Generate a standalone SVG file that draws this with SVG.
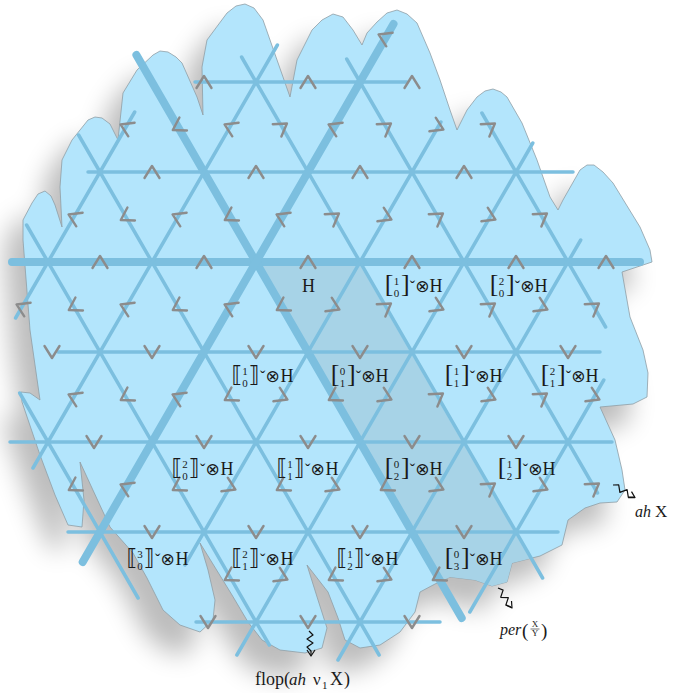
<svg xmlns="http://www.w3.org/2000/svg" width="679" height="693" viewBox="0 0 679 693">
<style>
.ln{stroke:#7cbfdf;stroke-width:3.5;stroke-linecap:round;fill:none}
.tk{stroke-width:8}
.ch{fill:none;stroke:#8c8c8c;stroke-width:2.4;stroke-linecap:round;stroke-linejoin:round}
.t{font-family:"Liberation Serif",serif;fill:#1a1a1a}
.s{font-size:11px;text-anchor:middle}
.s2{font-size:11px;text-anchor:middle}
.br{font-size:26px}
.db{font-family:"DejaVu Sans",sans-serif;font-size:22px;fill:#1a1a1a}
.ot{font-family:"DejaVu Sans",sans-serif;font-size:17px;fill:#1a1a1a}
.h{font-size:18px}
.cv{font-size:16px}
.it{font-style:italic}
.sq{fill:none;stroke:#111;stroke-width:1.2;stroke-linejoin:round}
</style>
<defs>
<path id="blob" d="M23,240 L23,220 L32,203 L38,194 L45,191 L51,196 L55,205 L62,227 L60,187 L62,160 L72,140 L88,120 L95,117 L102,118 L110,124 L118,140 L123,93 L137,70 L153,55 L160,51 L168,52 L176,57 L182,63 L197,97 L203,115 L202,67 L207,40 L227,13 L236,6 L245,4 L254,8 L263,20 L283,77 L290,97 L297,60 L312,30 L322,20 L333,14 L343,17 L353,30 L362,45 L367,33 L377,22 L387,13 L397,10 L407,14 L417,23 L430,53 L440,80 L450,110 L457,130 L467,110 L477,97 L485,91 L493,89 L501,92 L507,97 L522,123 L537,160 L550,197 L558,210 L563,200 L580,170 L587,165 L594,165 L603,172 L613,183 L640,227 L650,250 L652,262 L622,272 L630,317 L643,350 L648,373 L647,397 L633,404 L600,407 L615,440 L622,470 L625,490 L617,502 L600,503 L585,508 L568,520 L562,545 L540,556 L512,563 L507,582 L492,586 L475,580 L450,577 L435,584 L420,592 L415,612 L400,632 L380,645 L360,648 L345,640 L338,618 L328,592 L307,565 L318,600 L327,628 L322,648 L305,653 L280,650 L262,640 L248,622 L232,595 L200,543 L208,570 L215,600 L213,620 L200,632 L180,625 L163,610 L147,578 L133,553 L110,527 L80,462 L84,500 L82,527 L68,525 L55,495 L40,455 L22,402 L21,392 L30,393 L40,400 L30,330 Z"/>
<clipPath id="bc"><use href="#blob"/></clipPath>
<filter id="sh" x="-20%" y="-20%" width="140%" height="140%"><feGaussianBlur stdDeviation="13"/></filter>
<path id="cv" class="ch" d="M-6,-7.5 L6,0 L-6,7.5"/>
</defs>

<g id="background">
<use href="#blob" transform="translate(-18,24)" fill="#000" opacity="0.26" filter="url(#sh)"/>
<use href="#blob" fill="#b3e5fc" stroke="#8f9ea6" stroke-width="0.8"/>
<polygon points="256,265 360,265 560,611 456,611" fill="#a7d3e7" clip-path="url(#bc)"/>
</g>

<g id="lattice">
<line class="ln" x1="195" y1="82" x2="407" y2="82"/>
<line class="ln" x1="88" y1="172" x2="573" y2="172"/>
<line class="ln tk" x1="12" y1="262" x2="640" y2="262"/>
<line class="ln" x1="58" y1="352" x2="600" y2="352"/>
<line class="ln" x1="10" y1="442" x2="612" y2="442"/>
<line class="ln" x1="68" y1="532" x2="558" y2="532"/>
<line class="ln" x1="196" y1="622" x2="440" y2="622"/>
<line class="ln" x1="19.7" y1="393" x2="138.1" y2="598"/>
<line class="ln" x1="26.6" y1="225" x2="269.3" y2="645"/>
<line class="ln" x1="78.6" y1="135" x2="379.1" y2="655"/>
<line class="ln tk" x1="136.4" y1="55" x2="461.7" y2="618"/>
<line class="ln" x1="241.6" y1="57" x2="542.6" y2="578"/>
<line class="ln" x1="346.7" y1="59" x2="597.5" y2="493"/>
<line class="ln" x1="481.9" y1="113" x2="605.6" y2="327"/>
<line class="ln" x1="134.7" y1="112" x2="15.6" y2="318"/>
<line class="ln" x1="277.4" y1="45" x2="33" y2="468"/>
<line class="ln tk" x1="393.5" y1="24" x2="82.7" y2="562"/>
<line class="ln" x1="440.9" y1="122" x2="184.9" y2="565"/>
<line class="ln" x1="532.8" y1="143" x2="236.9" y2="655"/>
<line class="ln" x1="580.7" y1="240" x2="338" y2="660"/>
<line class="ln" x1="603.8" y1="380" x2="469.8" y2="612"/>
</g>

<g id="chevrons">
<use href="#cv" transform="translate(204 82) rotate(-90)"/>
<use href="#cv" transform="translate(308 82) rotate(-90)"/>
<use href="#cv" transform="translate(412 82) rotate(-90)"/>
<use href="#cv" transform="translate(152 172) rotate(-90)"/>
<use href="#cv" transform="translate(256 172) rotate(-90)"/>
<use href="#cv" transform="translate(360 172) rotate(-90)"/>
<use href="#cv" transform="translate(464 172) rotate(-90)"/>
<use href="#cv" transform="translate(100 262) rotate(-90)"/>
<use href="#cv" transform="translate(204 262) rotate(-90)"/>
<use href="#cv" transform="translate(308 262) rotate(-90)"/>
<use href="#cv" transform="translate(412 262) rotate(-90)"/>
<use href="#cv" transform="translate(516 262) rotate(-90)"/>
<use href="#cv" transform="translate(606 262) rotate(-90)"/>
<use href="#cv" transform="translate(52 352) rotate(90)"/>
<use href="#cv" transform="translate(152 352) rotate(90)"/>
<use href="#cv" transform="translate(256 352) rotate(90)"/>
<use href="#cv" transform="translate(360 352) rotate(90)"/>
<use href="#cv" transform="translate(464 352) rotate(90)"/>
<use href="#cv" transform="translate(568 352) rotate(90)"/>
<use href="#cv" transform="translate(94 442) rotate(90)"/>
<use href="#cv" transform="translate(204 442) rotate(90)"/>
<use href="#cv" transform="translate(308 442) rotate(90)"/>
<use href="#cv" transform="translate(412 442) rotate(90)"/>
<use href="#cv" transform="translate(516 442) rotate(90)"/>
<use href="#cv" transform="translate(152 532) rotate(90)"/>
<use href="#cv" transform="translate(256 532) rotate(90)"/>
<use href="#cv" transform="translate(360 532) rotate(90)"/>
<use href="#cv" transform="translate(464 532) rotate(90)"/>
<use href="#cv" transform="translate(208 622) rotate(90)"/>
<use href="#cv" transform="translate(308 622) rotate(90)"/>
<use href="#cv" transform="translate(412 622) rotate(90)"/>
<use href="#cv" transform="translate(178 127) rotate(150)"/>
<use href="#cv" transform="translate(126 217) rotate(150)"/>
<use href="#cv" transform="translate(230 217) rotate(150)"/>
<use href="#cv" transform="translate(74 307) rotate(150)"/>
<use href="#cv" transform="translate(178 307) rotate(150)"/>
<use href="#cv" transform="translate(282 307) rotate(150)"/>
<use href="#cv" transform="translate(126 397) rotate(150)"/>
<use href="#cv" transform="translate(230 397) rotate(150)"/>
<use href="#cv" transform="translate(334 397) rotate(150)"/>
<use href="#cv" transform="translate(74 487) rotate(150)"/>
<use href="#cv" transform="translate(178 487) rotate(150)"/>
<use href="#cv" transform="translate(282 487) rotate(150)"/>
<use href="#cv" transform="translate(386 487) rotate(150)"/>
<use href="#cv" transform="translate(230 577) rotate(150)"/>
<use href="#cv" transform="translate(334 577) rotate(150)"/>
<use href="#cv" transform="translate(438 577) rotate(150)"/>
<use href="#cv" transform="translate(282 127) rotate(-35)"/>
<use href="#cv" transform="translate(386 127) rotate(-35)"/>
<use href="#cv" transform="translate(490 127) rotate(-35)"/>
<use href="#cv" transform="translate(334 217) rotate(-35)"/>
<use href="#cv" transform="translate(438 217) rotate(-35)"/>
<use href="#cv" transform="translate(542 217) rotate(-35)"/>
<use href="#cv" transform="translate(386 307) rotate(-35)"/>
<use href="#cv" transform="translate(490 307) rotate(-35)"/>
<use href="#cv" transform="translate(594 307) rotate(-35)"/>
<use href="#cv" transform="translate(438 397) rotate(-35)"/>
<use href="#cv" transform="translate(542 397) rotate(-35)"/>
<use href="#cv" transform="translate(490 487) rotate(-35)"/>
<use href="#cv" transform="translate(594 487) rotate(-35)"/>
<use href="#cv" transform="translate(384 37) rotate(-155)"/>
<use href="#cv" transform="translate(126 127) rotate(-155)"/>
<use href="#cv" transform="translate(230 127) rotate(-155)"/>
<use href="#cv" transform="translate(334 127) rotate(-155)"/>
<use href="#cv" transform="translate(74 217) rotate(-155)"/>
<use href="#cv" transform="translate(178 217) rotate(-155)"/>
<use href="#cv" transform="translate(282 217) rotate(-155)"/>
<use href="#cv" transform="translate(22 307) rotate(-155)"/>
<use href="#cv" transform="translate(126 307) rotate(-155)"/>
<use href="#cv" transform="translate(230 307) rotate(-155)"/>
<use href="#cv" transform="translate(74 397) rotate(-155)"/>
<use href="#cv" transform="translate(178 397) rotate(-155)"/>
<use href="#cv" transform="translate(126 487) rotate(-155)"/>
<use href="#cv" transform="translate(438 127) rotate(25)"/>
<use href="#cv" transform="translate(386 217) rotate(25)"/>
<use href="#cv" transform="translate(490 217) rotate(25)"/>
<use href="#cv" transform="translate(334 307) rotate(25)"/>
<use href="#cv" transform="translate(438 307) rotate(25)"/>
<use href="#cv" transform="translate(542 307) rotate(25)"/>
<use href="#cv" transform="translate(282 397) rotate(25)"/>
<use href="#cv" transform="translate(386 397) rotate(25)"/>
<use href="#cv" transform="translate(490 397) rotate(25)"/>
<use href="#cv" transform="translate(594 397) rotate(25)"/>
<use href="#cv" transform="translate(230 487) rotate(25)"/>
<use href="#cv" transform="translate(334 487) rotate(25)"/>
<use href="#cv" transform="translate(438 487) rotate(25)"/>
<use href="#cv" transform="translate(542 487) rotate(25)"/>
<use href="#cv" transform="translate(282 577) rotate(25)"/>
<use href="#cv" transform="translate(386 577) rotate(25)"/>
</g>

<g id="n-H"><text class="t h" x="302" y="292">H</text></g>

<g id="n-10" transform="translate(387 292)"><text class="t br" x="-2.3" y="0">[</text><text class="t s" x="9.5" y="-7.5">1</text><text class="t s" x="9.5" y="5">0</text><text class="t br" x="14" y="0">]</text><text class="t cv" x="22.8" y="0">ˇ</text><text class="ot" x="28.2" y="0">⊗</text><text class="t h" x="42.4" y="0">H</text></g>
<g id="n-20" transform="translate(492 292)"><text class="t br" x="-2.3" y="0">[</text><text class="t s" x="9.5" y="-7.5">2</text><text class="t s" x="9.5" y="5">0</text><text class="t br" x="14" y="0">]</text><text class="t cv" x="22.8" y="0">ˇ</text><text class="ot" x="28.2" y="0">⊗</text><text class="t h" x="42.4" y="0">H</text></g>

<g id="n-d10" transform="translate(234 382)"><text class="db" x="-2.5" y="0">⟦</text><text class="t s2" x="11" y="-7.5">1</text><text class="t s2" x="11" y="5">0</text><text class="db" x="15" y="0">⟧</text><text class="t cv" x="26" y="0">ˇ</text><text class="ot" x="31.5" y="0">⊗</text><text class="t h" x="46.5" y="0">H</text></g>
<g id="n-01" transform="translate(333 382)"><text class="t br" x="-2.3" y="0">[</text><text class="t s" x="9.5" y="-7.5">0</text><text class="t s" x="9.5" y="5">1</text><text class="t br" x="14" y="0">]</text><text class="t cv" x="22.8" y="0">ˇ</text><text class="ot" x="28.2" y="0">⊗</text><text class="t h" x="42.4" y="0">H</text></g>
<g id="n-11" transform="translate(447 382)"><text class="t br" x="-2.3" y="0">[</text><text class="t s" x="9.5" y="-7.5">1</text><text class="t s" x="9.5" y="5">1</text><text class="t br" x="14" y="0">]</text><text class="t cv" x="22.8" y="0">ˇ</text><text class="ot" x="28.2" y="0">⊗</text><text class="t h" x="42.4" y="0">H</text></g>
<g id="n-21" transform="translate(543 382)"><text class="t br" x="-2.3" y="0">[</text><text class="t s" x="9.5" y="-7.5">2</text><text class="t s" x="9.5" y="5">1</text><text class="t br" x="14" y="0">]</text><text class="t cv" x="22.8" y="0">ˇ</text><text class="ot" x="28.2" y="0">⊗</text><text class="t h" x="42.4" y="0">H</text></g>

<g id="n-d20" transform="translate(174 475)"><text class="db" x="-2.5" y="0">⟦</text><text class="t s2" x="11" y="-7.5">2</text><text class="t s2" x="11" y="5">0</text><text class="db" x="15" y="0">⟧</text><text class="t cv" x="26" y="0">ˇ</text><text class="ot" x="31.5" y="0">⊗</text><text class="t h" x="46.5" y="0">H</text></g>
<g id="n-d11" transform="translate(279 475)"><text class="db" x="-2.5" y="0">⟦</text><text class="t s2" x="11" y="-7.5">1</text><text class="t s2" x="11" y="5">1</text><text class="db" x="15" y="0">⟧</text><text class="t cv" x="26" y="0">ˇ</text><text class="ot" x="31.5" y="0">⊗</text><text class="t h" x="46.5" y="0">H</text></g>
<g id="n-02" transform="translate(387 475)"><text class="t br" x="-2.3" y="0">[</text><text class="t s" x="9.5" y="-7.5">0</text><text class="t s" x="9.5" y="5">2</text><text class="t br" x="14" y="0">]</text><text class="t cv" x="22.8" y="0">ˇ</text><text class="ot" x="28.2" y="0">⊗</text><text class="t h" x="42.4" y="0">H</text></g>
<g id="n-12" transform="translate(500 475)"><text class="t br" x="-2.3" y="0">[</text><text class="t s" x="9.5" y="-7.5">1</text><text class="t s" x="9.5" y="5">2</text><text class="t br" x="14" y="0">]</text><text class="t cv" x="22.8" y="0">ˇ</text><text class="ot" x="28.2" y="0">⊗</text><text class="t h" x="42.4" y="0">H</text></g>

<g id="n-d30" transform="translate(129 565)"><text class="db" x="-2.5" y="0">⟦</text><text class="t s2" x="11" y="-7.5">3</text><text class="t s2" x="11" y="5">0</text><text class="db" x="15" y="0">⟧</text><text class="t cv" x="26" y="0">ˇ</text><text class="ot" x="31.5" y="0">⊗</text><text class="t h" x="46.5" y="0">H</text></g>
<g id="n-d21" transform="translate(234 565)"><text class="db" x="-2.5" y="0">⟦</text><text class="t s2" x="11" y="-7.5">2</text><text class="t s2" x="11" y="5">1</text><text class="db" x="15" y="0">⟧</text><text class="t cv" x="26" y="0">ˇ</text><text class="ot" x="31.5" y="0">⊗</text><text class="t h" x="46.5" y="0">H</text></g>
<g id="n-d12" transform="translate(339 565)"><text class="db" x="-2.5" y="0">⟦</text><text class="t s2" x="11" y="-7.5">1</text><text class="t s2" x="11" y="5">2</text><text class="db" x="15" y="0">⟧</text><text class="t cv" x="26" y="0">ˇ</text><text class="ot" x="31.5" y="0">⊗</text><text class="t h" x="46.5" y="0">H</text></g>
<g id="n-03" transform="translate(447 565)"><text class="t br" x="-2.3" y="0">[</text><text class="t s" x="9.5" y="-7.5">0</text><text class="t s" x="9.5" y="5">3</text><text class="t br" x="14" y="0">]</text><text class="t cv" x="22.8" y="0">ˇ</text><text class="ot" x="28.2" y="0">⊗</text><text class="t h" x="42.4" y="0">H</text></g>

<g id="connectors">
<polyline class="sq" points="613,485 618.7,484.8 619.9,492.4 627.1,489.6 628.3,497.2 634,497"/>
<path class="sq" d="M631.5,491.6 L635,497.6 L628.1,497.6"/>
<polyline class="sq" points="498,588 503.1,590.1 500.7,597.3 508.3,597.7 505.9,604.9 511,607"/>
<path class="sq" d="M511.5,601 L512,608 L505.7,605"/>
<polyline class="sq" points="309,631 313,635 307,639 313,643 307,647 311,651 311,655"/>
<path class="sq" d="M307,650 L311,656 L315,650"/>
</g>

<g id="n-ahX">
<text class="t it" x="635" y="517" font-size="16">ah</text>
<text class="t" x="655" y="517" font-size="17">X</text>
</g>
<g id="n-per">
<text class="t it" x="500" y="635" font-size="16">per</text>
<text class="t" x="522" y="637" font-size="19">(</text>
<text class="t" x="535" y="627" font-size="9" text-anchor="middle">X</text>
<line x1="530.5" y1="629" x2="539.5" y2="629" stroke="#1a1a1a" stroke-width="0.6"/>
<text class="t" x="535" y="636" font-size="9" text-anchor="middle">Y</text>
<text class="t" x="541" y="637" font-size="19">)</text>
</g>
<g id="n-flop">
<text class="t" x="255" y="685" font-size="18">flop(</text>
<text class="t it" x="289" y="685" font-size="17">ah</text>
<text class="t" x="313" y="685" font-size="17">ν</text>
<text class="t" x="322" y="689" font-size="11">1</text>
<text class="t" x="330" y="685" font-size="18">X</text>
<text class="t" x="344" y="685" font-size="18">)</text>
</g>
</svg>
